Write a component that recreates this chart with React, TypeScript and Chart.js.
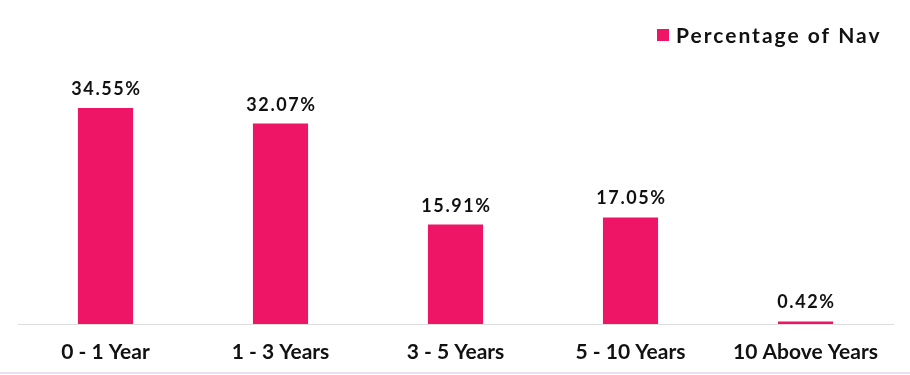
import React, { useEffect, useRef } from "react";
import { Chart, registerables } from "chart.js";

Chart.register(...registerables);

const categories = ["0 - 1 Year", "1 - 3 Years", "3 - 5 Years", "5 - 10 Years", "10 Above Years"];
const navValues = [34.55, 32.07, 15.91, 17.05, 0.42];
const seriesName = "Percentage of Nav";
const barColor = "#EE1566";

const labelPlugin = {
  id: "valueLabels",
  afterDatasetsDraw(chart: any) {
    const ctx = chart.ctx;
    const meta = chart.getDatasetMeta(0);
    ctx.save();
    ctx.font = "bold 18px Lato";
    ctx.fillStyle = "#111111";
    ctx.textAlign = "center";
    ctx.textBaseline = "alphabetic";
    (ctx as any).letterSpacing = "1.6px";
    meta.data.forEach((bar: any, i: number) => {
      const v = chart.data.datasets[0].data[i];
      ctx.fillText(v.toFixed(2) + "%", bar.x + 1, bar.y - 13);
    });
    ctx.restore();
  },
};

const legendPlugin = {
  id: "customLegend",
  afterDraw(chart: any) {
    const ctx = chart.ctx;
    ctx.save();
    ctx.fillStyle = barColor;
    ctx.fillRect(657, 29, 12, 12);
    ctx.font = "bold 21px Lato";
    (ctx as any).letterSpacing = "2px";
    ctx.fillStyle = "#111111";
    ctx.textAlign = "left";
    ctx.textBaseline = "middle";
    ctx.fillText(seriesName, 676, 36);
    ctx.restore();
  },
};

export default function App() {
  const ref = useRef<HTMLCanvasElement>(null);
  useEffect(() => {
    document.body.style.margin = "0";
    const chart = new Chart(ref.current!, {
      type: "bar",
      data: {
        labels: categories,
        datasets: [
          {
            label: seriesName,
            data: navValues,
            backgroundColor: barColor,
            barPercentage: 0.63,
            categoryPercentage: 0.5,
          },
        ],
      },
      options: {
        animation: false,
        responsive: true,
        maintainAspectRatio: false,
        layout: { padding: { top: 74, left: 18, right: 17, bottom: 0 } },
        plugins: { legend: { display: false }, tooltip: { enabled: false } },
        scales: {
          x: {
            afterFit(scale: any) {
              scale.height = 48;
            },
            grid: { display: false, drawTicks: false },
            border: { display: true, color: "#dddddd", width: 1 },
            ticks: { color: "#111111", font: { family: "Lato", weight: "bold", size: 21 }, padding: 16 },
          },
          y: { display: false, min: 0, max: 40 },
        },
      },
      plugins: [labelPlugin, legendPlugin],
    });
    return () => chart.destroy();
  }, []);
  return (
    <div style={{ width: 910, height: 372, borderBottom: "2px solid #ecdff0", position: "relative" }}>
      <canvas ref={ref} />
    </div>
  );
}
